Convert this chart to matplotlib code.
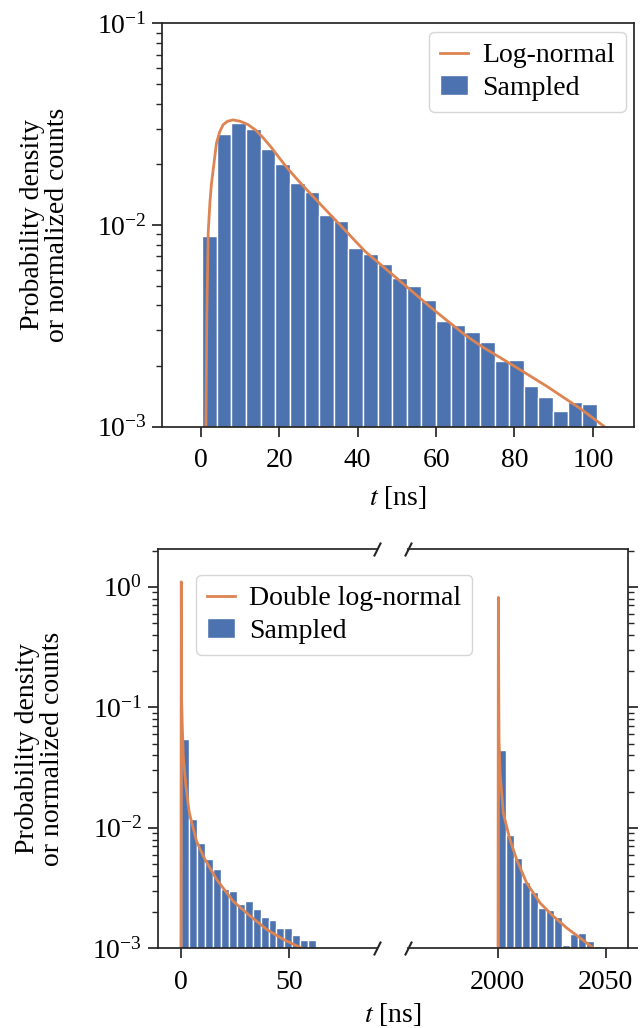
import numpy as np
import matplotlib
matplotlib.use("Agg")
import matplotlib.pyplot as plt

plt.rcParams['font.family'] = ['Liberation Serif', 'DejaVu Serif']
plt.rcParams['mathtext.fontset'] = 'stix'
plt.rcParams['font.size'] = 20

blue = '#4C72B0'
orange = '#DD8452'
dark = '#262626'

# --- top panel: single log-normal ---
top_bin_start = 0.33
top_bin_width = 3.73
top_counts = [0.00885, 0.0283, 0.0321, 0.0300, 0.0239, 0.0201, 0.01625, 0.01462,
              0.01125, 0.0105, 0.00766, 0.00721, 0.00643, 0.00544, 0.00497, 0.00427,
              0.00333, 0.00321, 0.00294, 0.00262, 0.00211, 0.00214, 0.00159, 0.00140,
              0.00119, 0.00132, 0.00129]
top_curve_t = [1.27, 1.5, 1.85, 2.3, 2.7, 3.3, 3.97, 4.8, 5.65, 6.8, 8.2, 10.0, 12.0,
               14.0, 16.0, 18.0, 20.0, 22.0, 25.1, 29.0, 33.5, 41.9, 50.4, 58.8,
               67.3, 71.5, 79.9, 88.4, 96.8, 102.7]
top_curve_y = [0.001, 0.0035, 0.0091, 0.0130, 0.0161, 0.0200, 0.0255, 0.0290, 0.0314,
               0.0327, 0.0332, 0.0327, 0.0315, 0.0295, 0.0269, 0.0242, 0.0215, 0.0192,
               0.0164, 0.0136, 0.0110, 0.0074, 0.00536, 0.00388, 0.00286, 0.00251,
               0.00200, 0.00158, 0.00123, 0.00101]

# --- bottom panel: double log-normal ---
bl_bin_start = 0.3
bl_bin_width = 3.67
bl_counts = [0.0547, 0.0119, 0.0075, 0.00554, 0.00458, 0.00313, 0.00297, 0.00235,
             0.00245, 0.00214, 0.00183, 0.00171, 0.00147, 0.00147, 0.00128, 0.00118,
             0.00118]
br_bin_start = 2000.3
br_bin_width = 3.7
br_counts = [0.0443, 0.00877, 0.00562, 0.00357, 0.00295, 0.00216, 0.00209, 0.00182,
             0.00107, 0.00132, 0.00134, 0.00116, 0.00105]
bl_curve_t = [0.15, 0.3, 0.45, 0.77, 1.24, 2.46, 4.0, 7.4, 11.3, 16.7, 24.4, 32.2,
              39.9, 47.7, 56.2]
bl_curve_y = [0.001, 1.1, 0.115, 0.069, 0.0391, 0.0220, 0.0133, 0.0077, 0.00544,
              0.00372, 0.00245, 0.00185, 0.00143, 0.00118, 0.001]
br_curve_t = [2000.15, 2000.3, 2000.6, 2001.1, 2002.6, 2005.7, 2008.8, 2013.4,
              2019.6, 2025.7, 2031.9, 2038.1, 2043.5]
br_curve_y = [0.001, 0.817, 0.0537, 0.0284, 0.0132, 0.00796, 0.00544, 0.00349,
              0.00238, 0.00185, 0.00148, 0.00122, 0.00103]


def bars(ax, start, width, counts, label=None):
    left = start + width * np.arange(len(counts))
    ax.bar(left, counts, width=width, align='edge', color=blue,
           edgecolor='white', linewidth=1.0, label=label)


def style(ax):
    for s in ax.spines.values():
        s.set_color(dark)
        s.set_linewidth(1.25)
    ax.tick_params(which='major', length=7.5, width=1.25, color=dark)
    ax.tick_params(which='minor', length=4.2, width=1.0, color=dark)
    ax.tick_params(axis='x', pad=8)


fig = plt.figure(figsize=(6.4, 10.28), dpi=100)

ax = fig.add_axes([0.2527, 0.5849, 0.7379, 0.3924])
bars(ax, top_bin_start, top_bin_width, top_counts, label='Sampled')
ax.plot(top_curve_t, top_curve_y, color=orange, lw=2, label='Log-normal')
ax.set_yscale('log')
ax.set_ylim(1e-3, 1e-1)
ax.set_xlim(-10, 110.5)
ax.set_xticks([0, 20, 40, 60, 80, 100])
ax.set_xlabel('$t$ [ns]', labelpad=8)
ax.set_ylabel('Probability density\nor normalized counts', linespacing=1.0)
ax.yaxis.set_label_coords(-0.195, 0.5)
style(ax)
ax.legend(loc='upper right', fontsize=20, handlelength=1.0,
          handletextpad=0.5, borderaxespad=0.3, labelspacing=0.25)

ax1 = fig.add_axes([0.2461, 0.0775, 0.3425, 0.3882])
ax2 = fig.add_axes([0.638, 0.0775, 0.3438, 0.3882])
ax1.set_zorder(2)
ax1.patch.set_alpha(0)

bars(ax1, bl_bin_start, bl_bin_width, bl_counts, label='Sampled')
ax1.plot(bl_curve_t, bl_curve_y, color=orange, lw=2, label='Double log-normal')
bars(ax2, br_bin_start, br_bin_width, br_counts)
ax2.plot(br_curve_t, br_curve_y, color=orange, lw=2)

for a in (ax1, ax2):
    a.set_yscale('log')
    a.set_ylim(1e-3, 2.05)
    style(a)
ax1.set_xlim(-10.7, 90.7)
ax2.set_xlim(1958.6, 2060.5)
ax1.set_xticks([0, 50])
ax2.set_xticks([2000, 2050])
ax1.spines['right'].set_visible(False)
ax2.spines['left'].set_visible(False)
ax2.yaxis.tick_right()
ax2.tick_params(which='both', labelright=False)
ax1.set_ylabel('Probability density\nor normalized counts', linespacing=1.0)
ax1.yaxis.set_label_coords(-0.42, 0.5)
fig.text(0.614, 0.0135, '$t$ [ns]', ha='center', va='center', fontsize=20)

d = 1.0
kw = dict(marker=[(-0.5, -d), (0.5, d)], markersize=10, linestyle='none',
          color=dark, mec=dark, mew=1.5, clip_on=False)
ax1.plot([1, 1], [0, 1], transform=ax1.transAxes, **kw)
ax2.plot([0, 0], [0, 1], transform=ax2.transAxes, **kw)

ax1.legend(loc='upper left', bbox_to_anchor=(0.176, 0.936),
           borderaxespad=0, fontsize=20, handlelength=1.0, handletextpad=0.5,
           labelspacing=0.25)

fig.savefig('out.png', dpi=100)
